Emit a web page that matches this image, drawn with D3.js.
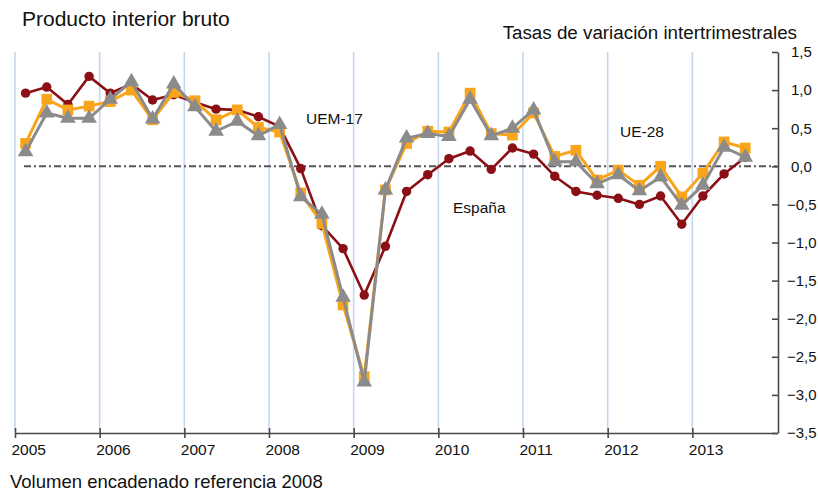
<!DOCTYPE html>
<html><head><meta charset="utf-8">
<script src="https://cdn.jsdelivr.net/npm/d3@7"></script>
<style>
html,body{margin:0;padding:0;background:#fff;}
svg{display:block;font-family:"Liberation Sans",Arial,Helvetica,sans-serif;}
</style></head>
<body>
<svg id="chart" width="818" height="494"></svg>
<script>
// ---- data (quarterly, 2005Q1 .. 2013Q3) ----
const years = [2005,2006,2007,2008,2009,2010,2011,2012,2013];
const yTicks = [1.5,1.0,0.5,0.0,-0.5,-1.0,-1.5,-2.0,-2.5,-3.0,-3.5];
const espana = [0.96,1.04,0.81,1.18, 0.96,1.08,0.87,0.94, 0.84,0.75,0.74,0.65,
                0.52,-0.03,-0.78,-1.08, -1.69,-1.05,-0.33,-0.11, 0.10,0.20,-0.04,0.24,
                0.16,-0.13,-0.33,-0.38, -0.42,-0.50,-0.39,-0.76, -0.39,-0.10,0.12];
const uem17 = [0.30,0.88,0.74,0.79, 0.85,1.00,0.61,0.97, 0.86,0.61,0.74,0.51,
               0.45,-0.35,-0.75,-1.82, -2.76,-0.31,0.30,0.46, 0.45,0.96,0.43,0.41,
               0.70,0.13,0.21,-0.18, -0.05,-0.25,0.00,-0.40, -0.09,0.32,0.24];
const ue28 = [0.19,0.70,0.63,0.63, 0.88,1.11,0.62,1.08, 0.78,0.46,0.59,0.40,
              0.55,-0.40,-0.63,-1.72, -2.83,-0.31,0.37,0.43, 0.39,0.88,0.40,0.50,
              0.74,0.06,0.06,-0.23, -0.11,-0.32,-0.14,-0.51, -0.25,0.25,0.12];
const seriesNames = ["España","UEM-17","UE-28"];

// ---- layout ----
const svg = d3.select("#chart");
const x = d3.scaleLinear().domain([2005, 2014]).range([15, 777]);
const y = d3.scaleLinear().domain([-3.5, 1.5]).range([433, 52]);
const tq = i => 2005 + (i + 0.5) / 4;
const fmt = v => d3.format(".1f")(Math.abs(v)).replace(".", ",");

// vertical year gridlines
svg.append("g").selectAll("line").data(years).join("line")
  .attr("x1", d => x(d)).attr("x2", d => x(d))
  .attr("y1", y(1.5)).attr("y2", y(-3.5) - 2)
  .attr("stroke", "#c5d6ee").attr("stroke-width", 1.6);

// zero reference line
svg.append("line")
  .attr("x1", 24).attr("x2", x(2014)).attr("y1", y(0)).attr("y2", y(0))
  .attr("stroke", "#555").attr("stroke-width", 2)
  .attr("stroke-dasharray", "7,3,2,3");

// right axis
const ay = svg.append("g").attr("transform", `translate(${x(2014) + 1},0)`)
  .call(d3.axisRight(y).tickValues(yTicks).tickSizeInner(-6).tickSizeOuter(0).tickPadding(9)
        .tickFormat(v => (v < 0 ? "\u2212" : "") + fmt(v)));
ay.select(".domain").attr("stroke", "#4a4a4a").attr("stroke-width", 1.6);
ay.selectAll(".tick line").attr("stroke", "#4a4a4a").attr("stroke-width", 1.6);
ay.selectAll(".tick text").attr("font-size", 15).attr("fill", "#111")
  .attr("font-family", "Liberation Sans, Arial, sans-serif")
  .attr("dx", d => d >= 0 ? 4 : 0);

// bottom axis
const ax = svg.append("g").attr("transform", `translate(0,${y(-3.5)})`)
  .call(d3.axisBottom(x).tickValues(years).tickSizeInner(5).tickSizeOuter(0).tickPadding(6)
        .tickFormat(d3.format("d")));
ax.select(".domain").attr("stroke", "#4a4a4a").attr("stroke-width", 1.6);
ax.selectAll(".tick line").attr("y1", -5).attr("y2", 5).attr("stroke", "#4a4a4a").attr("stroke-width", 1.6);
ax.selectAll(".tick text").attr("font-size", 15.5).attr("fill", "#111")
  .attr("font-family", "Liberation Sans, Arial, sans-serif")
  .attr("text-anchor", "start").attr("x", -4);

// series
const line = d3.line().x((d, i) => x(tq(i))).y(d => y(d));

function drawSeries(data, color, width, shape, size) {
  const g = svg.append("g");
  g.append("path").datum(data).attr("d", line)
    .attr("fill", "none").attr("stroke", color).attr("stroke-width", width)
    .attr("stroke-linejoin", "round");
  g.selectAll("path.m").data(data).join("path").attr("class", "m")
    .attr("transform", (d, i) => `translate(${x(tq(i))},${y(d)})`)
    .attr("d", d3.symbol().type(shape).size(size))
    .attr("fill", color);
}
drawSeries(espana, "#8a1015", 2.6, d3.symbolCircle, 70);
drawSeries(uem17, "#f9a51c", 3, d3.symbolSquare, 115);
drawSeries(ue28, "#8b8b8b", 3, d3.symbolTriangle, 105);

// texts
const T = (txt, xx, yy, size, anchor) => svg.append("text").text(txt)
  .attr("x", xx).attr("y", yy).attr("font-size", size).attr("fill", "#111")
  .attr("text-anchor", anchor || "start");
T("Producto interior bruto", 22, 26, 21);
T("Tasas de variación intertrimestrales", 797, 39, 18.8, "end");
T("Volumen encadenado referencia 2008", 10, 488, 18.5);
T(seriesNames[1], 306, 124, 15.5);
T(seriesNames[0], 453, 213, 15.5);
T(seriesNames[2], 620, 137, 15.5);
</script>
</body></html>
